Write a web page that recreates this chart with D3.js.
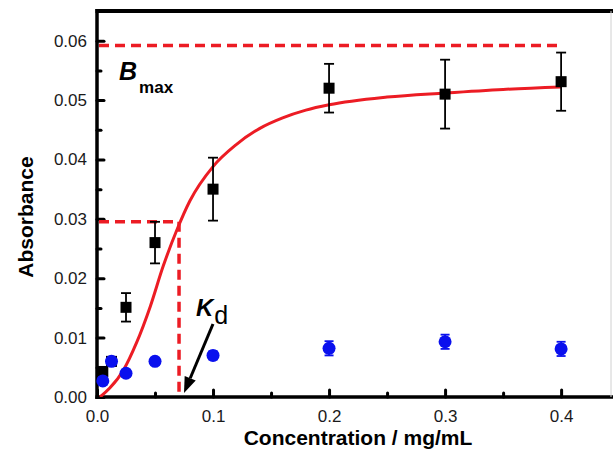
<!DOCTYPE html>
<html>
<head>
<meta charset="utf-8">
<script src="https://cdn.jsdelivr.net/npm/d3@7"></script>
<style>
  html, body { margin: 0; padding: 0; background: #fff; }
  svg { display: block; font-family: "Liberation Sans", Arial, sans-serif; }
</style>
</head>
<body>
<svg id="chart" width="613" height="454"></svg>
<script>
// ---- data ----
const sampleConc = [0.005, 0.0125, 0.025, 0.05, 0.1, 0.2, 0.3, 0.4];
const sampleAbs  = [0.0043, 0.0060, 0.0151, 0.0260, 0.0350, 0.0520, 0.0510, 0.0531];
const sampleErr  = [0.0007, 0.0007, 0.0024, 0.0035, 0.0053, 0.0041, 0.0058, 0.0049];

const controlConc = [0.005, 0.0125, 0.025, 0.05, 0.1, 0.2, 0.3, 0.4];
const controlAbs  = [0.0027, 0.0060, 0.0040, 0.0060, 0.0070, 0.0082, 0.0093, 0.0081];
const controlErr  = [0.0006, 0.0006, 0.0006, 0.0006, 0.0007, 0.0012, 0.0012, 0.0012];

const fitConc = [0.0026, 0.011, 0.023, 0.034, 0.046, 0.057, 0.069, 0.080, 0.100, 0.120, 0.140, 0.160, 0.180, 0.200, 0.250, 0.300, 0.350, 0.400];
const fitAbs  = [0.0,    0.0015, 0.0046, 0.0091, 0.0153, 0.0220, 0.0282, 0.0330, 0.0388, 0.0425, 0.0452, 0.0470, 0.0483, 0.0492, 0.0505, 0.0512, 0.0518, 0.0522];

const bmax = 0.0592;
const halfB = 0.0295;
const kd = 0.0707;
const bmaxEnd = 0.4;

const xTicks = [0.0, 0.1, 0.2, 0.3, 0.4];
const xMinor = [0.05, 0.15, 0.25, 0.35];
const yTicks = [0.00, 0.01, 0.02, 0.03, 0.04, 0.05, 0.06];
const yMinor = [0.005, 0.015, 0.025, 0.035, 0.045, 0.055];

// ---- layout ----
const L = 97, R = 611, T = 11, B = 397;
const svg = d3.select("#chart");
const x = d3.scaleLinear().domain([0, 0.443]).range([L, R]);
const y = d3.scaleLinear().domain([0, 0.065]).range([B, T]);

const red = "#ec1c24", blue = "#0a10ee";

// clip
svg.append("defs").append("clipPath").attr("id", "clip")
  .append("rect").attr("x", L).attr("y", T).attr("width", R - L).attr("height", B - T);

// axes with inward ticks
const xAxis = svg.append("g").attr("transform", `translate(0,${B})`)
  .call(d3.axisBottom(x).tickValues(xTicks).tickSizeInner(-7).tickSizeOuter(0).tickPadding(13)
        .tickFormat(d3.format(".1f")));
const xMinorAxis = svg.append("g").attr("transform", `translate(0,${B})`)
  .call(d3.axisBottom(x).tickValues(xMinor).tickSizeInner(-4).tickSizeOuter(0).tickFormat(""));
const yAxis = svg.append("g").attr("transform", `translate(${L},0)`)
  .call(d3.axisLeft(y).tickValues(yTicks).tickSizeInner(-7).tickSizeOuter(0).tickPadding(10)
        .tickFormat(d3.format(".2f")));
const yMinorAxis = svg.append("g").attr("transform", `translate(${L},0)`)
  .call(d3.axisLeft(y).tickValues(yMinor).tickSizeInner(-4).tickSizeOuter(0).tickFormat(""));

[xAxis, xMinorAxis, yAxis, yMinorAxis].forEach(g => {
  g.select(".domain").remove();
  g.selectAll(".tick line").attr("stroke", "#000").attr("stroke-width", 3).attr("stroke-linecap", "round");
  g.selectAll(".tick text").attr("fill", "#1a1a1a").style("font-size", "17px")
    .style("font-family", "'Liberation Sans', Arial, sans-serif");
});
xAxis.selectAll(".tick text").attr("dy", "0.71em");

// frame
svg.append("line").attr("x1", L).attr("x2", L).attr("y1", T - 2).attr("y2", B + 2)
  .attr("stroke", "#000").attr("stroke-width", 3.5);
svg.append("line").attr("x1", L - 1.5).attr("x2", 613).attr("y1", B).attr("y2", B)
  .attr("stroke", "#000").attr("stroke-width", 3.5);
svg.append("line").attr("x1", L - 1.5).attr("x2", 613).attr("y1", T).attr("y2", T)
  .attr("stroke", "#000").attr("stroke-width", 4);
svg.append("line").attr("x1", R).attr("x2", R).attr("y1", T).attr("y2", B)
  .attr("stroke", "#d0d0d0").attr("stroke-width", 1);

// dashed reference lines
const dashes = svg.append("g").attr("stroke", red).attr("stroke-width", 3.5)
  .attr("stroke-dasharray", "10,6").attr("fill", "none");
dashes.append("line").attr("x1", x(0) + 2).attr("x2", x(bmaxEnd)).attr("y1", y(bmax)).attr("y2", y(bmax));
dashes.append("line").attr("x1", x(0) + 2).attr("x2", x(kd)).attr("y1", y(halfB)).attr("y2", y(halfB));
dashes.append("line").attr("x1", x(kd)).attr("x2", x(kd)).attr("y1", y(halfB)).attr("y2", y(0));

// fit curve
const fitData = fitConc.map((c, i) => [c, fitAbs[i]]);
svg.append("path").datum(fitData).attr("clip-path", "url(#clip)")
  .attr("fill", "none").attr("stroke", red).attr("stroke-width", 3)
  .attr("d", d3.line().x(d => x(d[0])).y(d => y(d[1])).curve(d3.curveMonotoneX));

// error bars helper
function errorBars(g, xs, ys, es, color, cap, w) {
  xs.forEach((c, i) => {
    const gx = x(c), y1 = y(ys[i] + es[i]), y0 = y(ys[i] - es[i]);
    g.append("line").attr("x1", gx).attr("x2", gx).attr("y1", y1).attr("y2", y0)
      .attr("stroke", color).attr("stroke-width", w);
    g.append("line").attr("x1", gx - cap).attr("x2", gx + cap).attr("y1", y1).attr("y2", y1)
      .attr("stroke", color).attr("stroke-width", w);
    g.append("line").attr("x1", gx - cap).attr("x2", gx + cap).attr("y1", y0).attr("y2", y0)
      .attr("stroke", color).attr("stroke-width", w);
  });
}

// sample (black squares)
const gs = svg.append("g");
errorBars(gs, sampleConc, sampleAbs, sampleErr, "#000", 5, 1.8);
gs.selectAll("rect").data(sampleConc).enter().append("rect")
  .attr("x", (d) => x(d) - 5.5).attr("y", (d, i) => y(sampleAbs[i]) - 5.5)
  .attr("width", 11).attr("height", 11).attr("fill", "#000");

// control (blue circles)
const gc = svg.append("g");
errorBars(gc, controlConc, controlAbs, controlErr, blue, 4.5, 1.8);
gc.selectAll("circle").data(controlConc).enter().append("circle")
  .attr("cx", d => x(d)).attr("cy", (d, i) => y(controlAbs[i])).attr("r", 6.5).attr("fill", blue);

// Bmax annotation
const bm = svg.append("text").attr("x", 119).attr("y", 80).attr("fill", "#000");
bm.append("tspan").text("B").style("font-size", "25px").style("font-weight", "bold").style("font-style", "italic");
bm.append("tspan").text("max").attr("dx", 2).attr("dy", 13).style("font-size", "17px").style("font-weight", "bold");

// Kd annotation
const kt = svg.append("text").attr("x", 196).attr("y", 316).attr("fill", "#000");
kt.append("tspan").text("K").style("font-size", "24px").style("font-weight", "bold").style("font-style", "italic");
kt.append("tspan").text("d").attr("dx", 1).attr("dy", 8).style("font-size", "25px");

// arrow (line + filled head)
const ax0 = 213, ay0 = 324, ax1 = 184, ay1 = 393;
const ang = Math.atan2(ay1 - ay0, ax1 - ax0);
const hl = 16, hw = 6;
const bx = ax1 - hl * Math.cos(ang), by = ay1 - hl * Math.sin(ang);
svg.append("line").attr("x1", ax0).attr("y1", ay0).attr("x2", bx).attr("y2", by)
  .attr("stroke", "#000").attr("stroke-width", 3);
svg.append("path").attr("fill", "#000")
  .attr("d", `M${ax1},${ay1} L${bx + hw * Math.sin(ang)},${by - hw * Math.cos(ang)} L${bx - hw * Math.sin(ang)},${by + hw * Math.cos(ang)} Z`);

// axis titles
svg.append("text").attr("x", 358).attr("y", 445).attr("text-anchor", "middle")
  .style("font-size", "21px").style("font-weight", "bold").attr("fill", "#000")
  .text("Concentration / mg/mL");
svg.append("text").attr("transform", "translate(33,217) rotate(-90)").attr("text-anchor", "middle")
  .style("font-size", "21px").style("font-weight", "bold").attr("fill", "#000")
  .text("Absorbance");
</script>
</body>
</html>
